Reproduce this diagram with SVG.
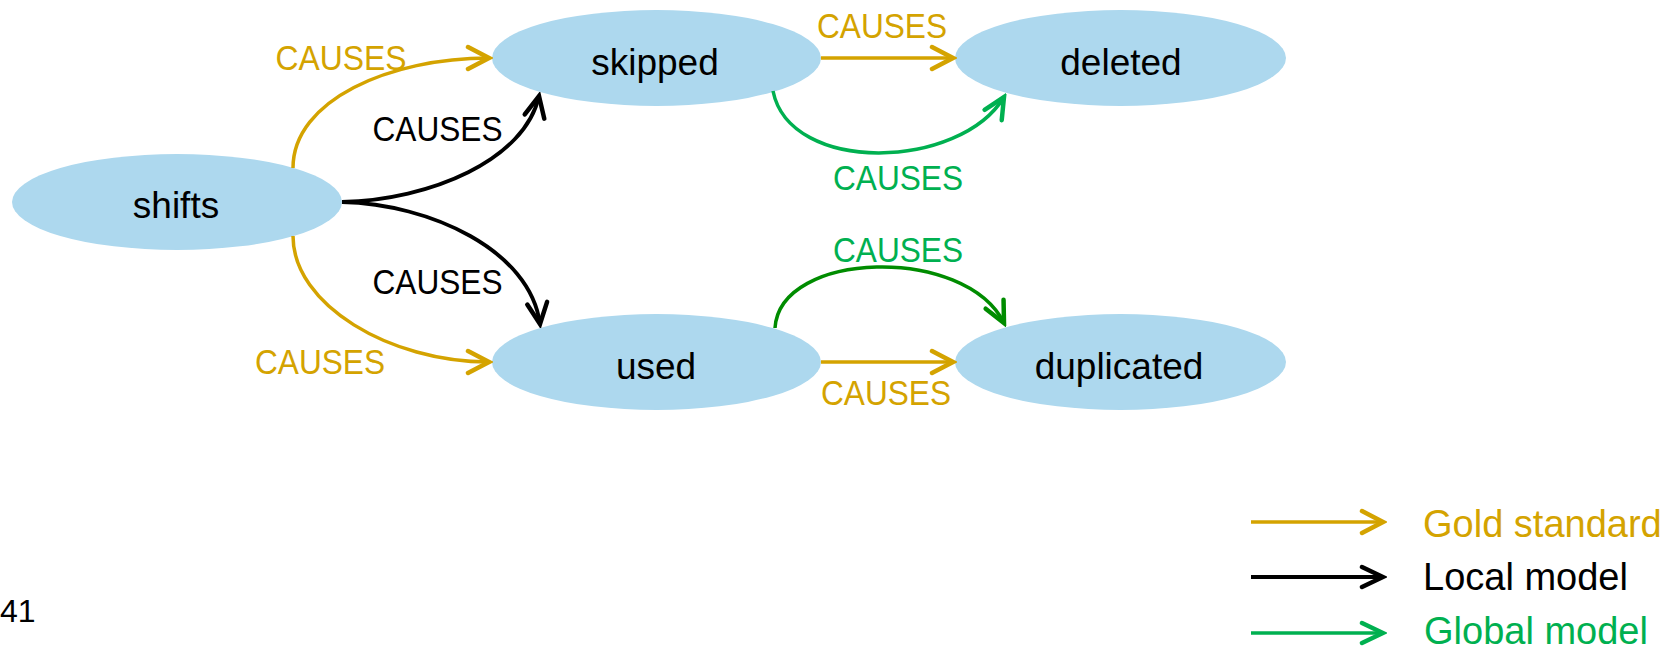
<svg xmlns="http://www.w3.org/2000/svg" width="1678" height="649" viewBox="0 0 1678 649">
<style>
.node{fill:#ADD8EE}
.nt{font-family:"Liberation Sans",Arial,sans-serif;font-size:37px;fill:#000;text-anchor:middle}
.lb{font-family:"Liberation Sans",Arial,sans-serif;font-size:35px;text-anchor:middle}
.lg{font-family:"Liberation Sans",Arial,sans-serif;font-size:38px}
.gold{fill:#D4A300}
.blk{fill:#000}
.grn{fill:#00B050}
.e{fill:none;stroke-width:3.5}
.eg{stroke:#D4A300}
.eb{stroke:#000;stroke-width:3.8}
.el{stroke:#00B050}
.ed{stroke:#008C00}
</style>
<defs>
<marker id="ag" markerUnits="userSpaceOnUse" viewBox="-26 -15 30 30" markerWidth="30" markerHeight="30" refX="0" refY="0" orient="auto"><path d="M-21,-11 L0,0 L-21,11" fill="none" stroke="#D4A300" stroke-width="4.5" stroke-linecap="round"/></marker>
<marker id="ab" markerUnits="userSpaceOnUse" viewBox="-26 -15 30 30" markerWidth="30" markerHeight="30" refX="0" refY="0" orient="auto"><path d="M-21,-10 L0,0 L-21,10" fill="none" stroke="#000" stroke-width="4.5" stroke-linecap="round"/></marker>
<marker id="al" markerUnits="userSpaceOnUse" viewBox="-26 -15 30 30" markerWidth="30" markerHeight="30" refX="0" refY="0" orient="auto"><path d="M-21,-10 L0,0 L-21,10" fill="none" stroke="#00B050" stroke-width="4.5" stroke-linecap="round"/></marker>
<marker id="ad" markerUnits="userSpaceOnUse" viewBox="-26 -15 30 30" markerWidth="30" markerHeight="30" refX="0" refY="0" orient="auto"><path d="M-21,-10 L0,0 L-21,10" fill="none" stroke="#008C00" stroke-width="4.5" stroke-linecap="round"/></marker>
</defs>

<g id="node-shifts"><ellipse class="node" cx="177" cy="202" rx="165" ry="48"/><text class="nt" x="176" y="218">shifts</text></g>
<g id="node-skipped"><ellipse class="node" cx="656.5" cy="58" rx="164.5" ry="48"/><text class="nt" x="655" y="75">skipped</text></g>
<g id="node-used"><ellipse class="node" cx="656.5" cy="362" rx="164.5" ry="48"/><text class="nt" x="656" y="379">used</text></g>
<g id="node-deleted"><ellipse class="node" cx="1120.5" cy="58" rx="165.5" ry="48"/><text class="nt" x="1121" y="75">deleted</text></g>
<g id="node-duplicated"><ellipse class="node" cx="1120.5" cy="362" rx="165.5" ry="48"/><text class="nt" x="1119" y="379">duplicated</text></g>

<g id="connectors">
<path class="e eg" d="M293,168 C293,100 390,58 489,58" marker-end="url(#ag)"/>
<path class="e eb" d="M342,202 C430,200 525,160 539,96" marker-end="url(#ab)"/>
<path class="e eb" d="M342,202 C430,204 530,250 540,324" marker-end="url(#ab)"/>
<path class="e eg" d="M293,236 C293,305 390,362 489,362" marker-end="url(#ag)"/>
<path class="e eg" d="M821,58 L953,58" marker-end="url(#ag)"/>
<path class="e el" d="M773,91 C790,175 960,170 1004,97" marker-end="url(#al)"/>
<path class="e ed" d="M775,328 C780,250 965,245 1004,323" marker-end="url(#ad)"/>
<path class="e eg" d="M821,362 L953,362" marker-end="url(#ag)"/>

<text class="lb gold" x="341" y="70" textLength="131" lengthAdjust="spacingAndGlyphs">CAUSES</text>
<text class="lb blk" x="437.5" y="141" textLength="130" lengthAdjust="spacingAndGlyphs">CAUSES</text>
<text class="lb blk" x="437.5" y="294" textLength="130" lengthAdjust="spacingAndGlyphs">CAUSES</text>
<text class="lb gold" x="320" y="374" textLength="130" lengthAdjust="spacingAndGlyphs">CAUSES</text>
<text class="lb gold" x="882" y="38" textLength="130" lengthAdjust="spacingAndGlyphs">CAUSES</text>
<text class="lb grn" x="898" y="190" textLength="130" lengthAdjust="spacingAndGlyphs">CAUSES</text>
<text class="lb grn" x="898" y="262" textLength="130" lengthAdjust="spacingAndGlyphs">CAUSES</text>
<text class="lb gold" x="886" y="405" textLength="130" lengthAdjust="spacingAndGlyphs">CAUSES</text>
</g>

<g id="legend">
<path class="e eg" d="M1251,522 L1383,522" marker-end="url(#ag)"/>
<text class="lg gold" x="1423" y="537">Gold standard</text>
<path class="e eb" d="M1251,577 L1383,577" marker-end="url(#ab)"/>
<text class="lg blk" x="1423" y="590">Local model</text>
<path class="e el" d="M1251,633 L1383,633" marker-end="url(#al)"/>
<text class="lg grn" x="1424" y="644">Global model</text>
</g>

<text id="page-number" x="0" y="622" font-family="Liberation Sans, Arial, sans-serif" font-size="32" fill="#000">41</text>
</svg>
